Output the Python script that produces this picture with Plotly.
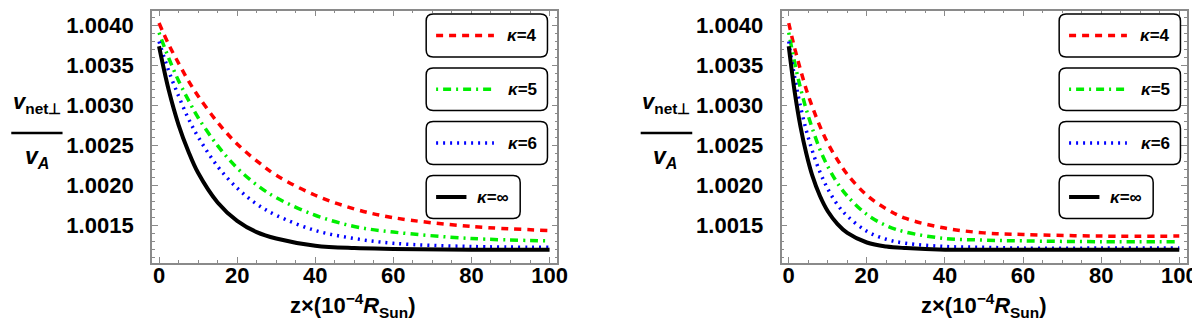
import plotly.graph_objects as go

W, H = 1200, 324

# z in units of 1e-4 R_Sun
Z_LEFT = [0, 2.5, 5, 7.5, 10, 15, 20, 25, 30, 40, 50, 60, 80, 100]
LEFT_K4 = [1.00403, 1.00376, 1.00353, 1.00331, 1.00312, 1.00279, 1.00252,
           1.00231, 1.00213, 1.00188, 1.00171, 1.00160, 1.00149, 1.00144]
LEFT_K5 = [1.00391, 1.00359, 1.00331, 1.00307, 1.00285, 1.00250, 1.00222,
           1.00201, 1.00185, 1.00163, 1.00149, 1.00142, 1.00134, 1.00131]
LEFT_K6 = [1.00380, 1.00343, 1.00312, 1.00284, 1.00261, 1.00224, 1.00197,
           1.00177, 1.00163, 1.00144, 1.00134, 1.00128, 1.00124, 1.00123]
LEFT_KINF = [1.00374, 1.00319, 1.00276, 1.00243, 1.00216, 1.00179, 1.00156,
             1.00142, 1.00134, 1.00125, 1.00122, 1.00121, 1.00120, 1.00120]

Z_RIGHT = [0, 1.5, 3, 4.5, 6, 8, 10, 12.5, 15, 20, 25, 30, 40, 50, 60, 80, 100]
RIGHT_K4 = [1.00403, 1.00372, 1.00345, 1.00320, 1.00299, 1.00274, 1.00253, 1.00232,
            1.00214, 1.00188, 1.00171, 1.00159, 1.00147, 1.00141, 1.00139, 1.00137, 1.00137]
RIGHT_K5 = [1.00391, 1.00354, 1.00322, 1.00295, 1.00272, 1.00245, 1.00224, 1.00203,
            1.00187, 1.00164, 1.00150, 1.00142, 1.00134, 1.00132, 1.00131, 1.00130, 1.00130]
RIGHT_K6 = [1.00380, 1.00336, 1.00299, 1.00269, 1.00244, 1.00217, 1.00196, 1.00176,
            1.00162, 1.00143, 1.00133, 1.00128, 1.00124, 1.00123, 1.00122, 1.00122, 1.00122]
RIGHT_KINF = [1.00374, 1.00318, 1.00274, 1.00240, 1.00213, 1.00187, 1.00168, 1.00152,
              1.00141, 1.00129, 1.00124, 1.00122, 1.00120, 1.00120, 1.00120, 1.00120, 1.00120]

KAPPA_LABELS = ["<b><i>κ</i>=4</b>", "<b><i>κ</i>=5</b>", "<b><i>κ</i>=6</b>", "<b><i>κ</i>=∞</b>"]
COLORS = ["#ff0000", "#00ee00", "#0000ff", "#000000"]
DASHES = ["7px,6px", "2px,5px,8px,5px", "2px,5px", "solid"]
WIDTHS = [3.5, 3.5, 3.5, 4]

FONT = "Liberation Sans, Arial, sans-serif"
FRAME = "#8a8a8a"


def px_x(x):
    return x / W


def px_y(y):
    return 1 - y / H


fig = go.Figure()

panels = [
    ("x", "y", Z_LEFT, [LEFT_K4, LEFT_K5, LEFT_K6, LEFT_KINF]),
    ("x2", "y2", Z_RIGHT, [RIGHT_K4, RIGHT_K5, RIGHT_K6, RIGHT_KINF]),
]
for xa, ya, z, series in panels:
    for i, vals in enumerate(series):
        fig.add_trace(go.Scatter(
            x=z, y=vals, xaxis=xa, yaxis=ya, mode="lines",
            line=dict(color=COLORS[i], width=WIDTHS[i], dash=DASHES[i],
                      shape="spline", smoothing=1.0),
            showlegend=False, hoverinfo="skip",
        ))

tickfont = dict(family=FONT, size=22, color="black", weight="bold")
common = dict(
    showline=True, linecolor=FRAME, linewidth=1.5, mirror="allticks",
    ticks="inside", ticklen=6, tickwidth=1, tickcolor=FRAME,
    showgrid=False, zeroline=False, tickfont=tickfont,
)
xcommon = dict(common, range=[-1.85, 102], tick0=0, dtick=20, ticklabelstandoff=-8,
               minor=dict(ticks="inside", ticklen=3, tickcolor=FRAME, dtick=5, showgrid=False))
ycommon = dict(common, range=[1.001034, 1.004184], tick0=1.0015, dtick=0.0005,
               tickformat=".4f", ticklabelstandoff=12,
               minor=dict(ticks="inside", ticklen=3, tickcolor=FRAME, dtick=0.0001, showgrid=False))

y_dom = [px_y(255), px_y(2.7)]
fig.update_layout(
    width=W, height=H,
    margin=dict(l=0, r=0, t=0, b=0),
    paper_bgcolor="white", plot_bgcolor="white",
    xaxis=dict(xcommon, domain=[px_x(145), px_x(554)], anchor="y"),
    yaxis=dict(ycommon, domain=y_dom, anchor="x"),
    xaxis2=dict(xcommon, domain=[px_x(780), px_x(1189)], anchor="y2"),
    yaxis2=dict(ycommon, domain=y_dom, anchor="x2"),
)

shapes = []
annotations = []


def rounded_box(x0, y0, x1, y1, r=7):
    rx, ry = r / W, r / H
    a, b = px_x(x0), px_x(x1)
    top, bot = px_y(y0), px_y(y1)
    path = (f"M {a + rx},{top} L {b - rx},{top} Q {b},{top} {b},{top - ry} "
            f"L {b},{bot + ry} Q {b},{bot} {b - rx},{bot} "
            f"L {a + rx},{bot} Q {a},{bot} {a},{bot + ry} "
            f"L {a},{top - ry} Q {a},{top} {a + rx},{top} Z")
    return dict(type="path", path=path, xref="paper", yref="paper",
                line=dict(color="black", width=1.5), fillcolor="white", layer="above")


def add_legend(off):
    boxes = [(6, 49), (60, 102.5), (113.5, 156.5), (167.5, 210.5)]
    for i, (top, bot) in enumerate(boxes):
        right = 544 if i < 3 else 516.5
        shapes.append(rounded_box(421.7 + off, top, right + off, bot))
        yc = (top + bot) / 2
        seg_end = 490 if i < 3 else 462.3
        shapes.append(dict(type="line", xref="paper", yref="paper",
                           x0=px_x(431.7 + off), x1=px_x(seg_end + off),
                           y0=px_y(yc), y1=px_y(yc), layer="above",
                           line=dict(color=COLORS[i], width=WIDTHS[i], dash=DASHES[i])))
        text_x = 518.5 if i < 3 else 489.5
        annotations.append(dict(text=KAPPA_LABELS[i], x=px_x(text_x + off), y=px_y(yc),
                                xref="paper", yref="paper", showarrow=False,
                                xanchor="center", yanchor="middle",
                                font=dict(family=FONT, size=17, color="black")))


def add_ylabel(xl, xr, xden):
    xc = (xl + xr) / 2
    annotations.append(dict(text="<b><i>v</i><sub>net⊥</sub></b>", x=px_x(xc), y=px_y(95),
                            xref="paper", yref="paper", showarrow=False,
                            xanchor="center", yanchor="middle",
                            font=dict(family=FONT, size=22, color="black")))
    annotations.append(dict(text="<b><i>v<sub>A</sub></i></b>", x=px_x(xden), y=px_y(149),
                            xref="paper", yref="paper", showarrow=False,
                            xanchor="center", yanchor="middle",
                            font=dict(family=FONT, size=23, color="black")))
    shapes.append(dict(type="line", xref="paper", yref="paper",
                       x0=px_x(xl), x1=px_x(xr), y0=px_y(125), y1=px_y(125),
                       line=dict(color="black", width=2.5)))


def add_xlabel(xc):
    annotations.append(dict(text="<b>z×(10<sup>−4</sup><i>R</i><sub>Sun</sub>)</b>",
                            x=px_x(xc), y=px_y(297), xref="paper", yref="paper",
                            showarrow=False, xanchor="center", yanchor="middle",
                            font=dict(family=FONT, size=22, color="black")))


add_legend(0)
add_legend(638.3)
add_ylabel(3.3, 55, 29)
add_ylabel(638, 690, 663)
add_xlabel(348)
add_xlabel(984)

fig.update_layout(shapes=shapes, annotations=annotations)
fig.write_html("out.html")
